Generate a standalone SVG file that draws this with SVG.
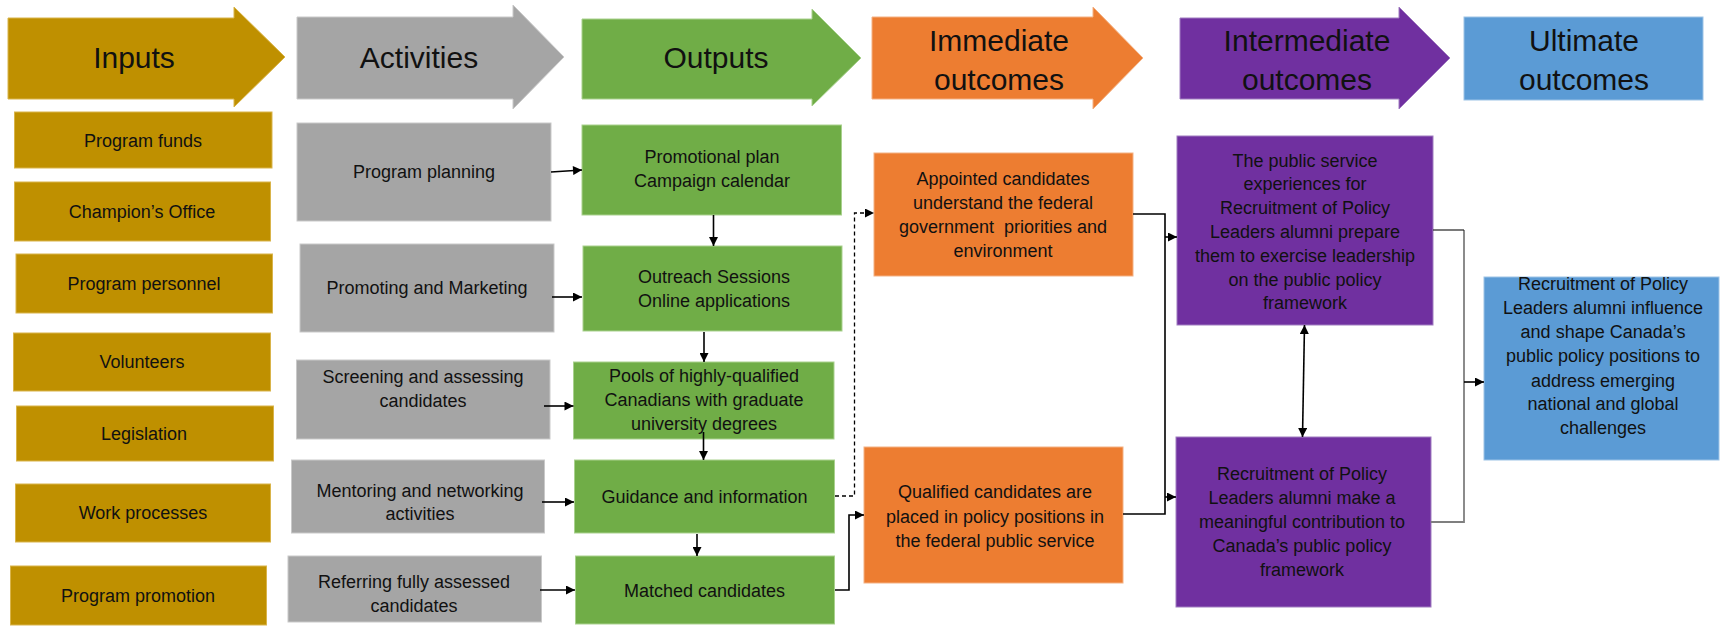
<svg xmlns="http://www.w3.org/2000/svg" width="1721" height="628" viewBox="0 0 1721 628">
  <defs>
    <style>
      .hd { font-family: "Liberation Sans", Arial, sans-serif; font-size: 30px; fill: #111; text-anchor: middle; }
      .tx { font-family: "Liberation Sans", Arial, sans-serif; font-size: 18px; fill: #111; text-anchor: middle; }
      .gold { fill: #BF9000; stroke: #D9B44A; stroke-width: 1; }
      .grey { fill: #A5A5A5; stroke: #C9C9C9; stroke-width: 1; }
      .green { fill: #70AD47; stroke: #A9D18E; stroke-width: 1; }
      .orange { fill: #ED7D31; stroke: #F4B183; stroke-width: 1; }
      .purple { fill: #7030A0; stroke: #A07CC0; stroke-width: 1; }
      .blue { fill: #5B9BD5; stroke: #9DC3E6; stroke-width: 1; }
      .ln { fill: none; stroke: #000; stroke-width: 1.6; }
      .dash { fill: none; stroke: #000; stroke-width: 1.3; stroke-dasharray: 4 3; }
      .gl { fill: none; stroke: #7F7F7F; stroke-width: 1.8; }
    </style>
    <marker id="ah" viewBox="0 0 10 10" refX="10" refY="5" markerWidth="10" markerHeight="9" markerUnits="userSpaceOnUse" orient="auto-start-reverse">
      <path d="M0,0 L10,5 L0,10 z" fill="#000"/>
    </marker>
  </defs>

  <!-- column header arrows -->
  <g id="hdr-inputs">
    <polygon class="gold" points="8,18 234,18 234,7 285,57 234,107 234,99 8,99"/>
    <text class="hd" x="134" y="68">Inputs</text>
  </g>
  <g id="hdr-activities">
    <polygon class="grey" points="297,17 513,17 513,5 564,57 513,109 513,99 297,99"/>
    <text class="hd" x="419" y="68">Activities</text>
  </g>
  <g id="hdr-outputs">
    <polygon class="green" points="582,19 812,19 812,9 861,58 812,106 812,99 582,99"/>
    <text class="hd" x="716" y="68">Outputs</text>
  </g>
  <g id="hdr-immediate">
    <polygon class="orange" points="872,17 1093,17 1093,7 1143,58 1093,109 1093,99 872,99"/>
    <text class="hd" x="999" y="51">Immediate</text>
    <text class="hd" x="999" y="90">outcomes</text>
  </g>
  <g id="hdr-intermediate">
    <polygon class="purple" points="1180,18 1399,18 1399,7 1450,58 1399,109 1399,99 1180,99"/>
    <text class="hd" x="1307" y="51">Intermediate</text>
    <text class="hd" x="1307" y="90">outcomes</text>
  </g>
  <g id="hdr-ultimate">
    <rect class="blue" x="1464" y="17" width="239" height="83"/>
    <text class="hd" x="1584" y="51">Ultimate</text>
    <text class="hd" x="1584" y="90">outcomes</text>
  </g>

  <!-- inputs -->
  <g id="in-funds"><rect class="gold" x="14.5" y="112" width="257.5" height="56"/><text class="tx" x="143" y="147">Program funds</text></g>
  <g id="in-champion"><rect class="gold" x="14.5" y="182" width="256" height="59"/><text class="tx" x="142" y="218">Champion’s Office</text></g>
  <g id="in-personnel"><rect class="gold" x="16" y="254" width="256.5" height="59"/><text class="tx" x="144" y="290">Program personnel</text></g>
  <g id="in-volunteers"><rect class="gold" x="13.5" y="333" width="257" height="58"/><text class="tx" x="142" y="368">Volunteers</text></g>
  <g id="in-legislation"><rect class="gold" x="16.5" y="406" width="257" height="55"/><text class="tx" x="144" y="440">Legislation</text></g>
  <g id="in-work"><rect class="gold" x="15.5" y="484" width="255" height="58"/><text class="tx" x="143" y="519">Work processes</text></g>
  <g id="in-promotion"><rect class="gold" x="10.5" y="566" width="256" height="59"/><text class="tx" x="138" y="602">Program promotion</text></g>

  <!-- activities -->
  <g id="act-planning"><rect class="grey" x="297" y="123" width="254" height="98"/><text class="tx" x="424" y="178">Program planning</text></g>
  <g id="act-marketing"><rect class="grey" x="300" y="244" width="254" height="88"/><text class="tx" x="427" y="294">Promoting and Marketing</text></g>
  <g id="act-screening"><rect class="grey" x="296.5" y="360" width="253.5" height="79"/>
    <text class="tx" x="423" y="383">Screening and assessing</text><text class="tx" x="423" y="407">candidates</text></g>
  <g id="act-mentoring"><rect class="grey" x="291.5" y="460" width="253" height="73"/>
    <text class="tx" x="420" y="497">Mentoring and networking</text><text class="tx" x="420" y="520">activities</text></g>
  <g id="act-referring"><rect class="grey" x="288" y="556" width="253.5" height="66"/>
    <text class="tx" x="414" y="588">Referring fully assessed</text><text class="tx" x="414" y="612">candidates</text></g>

  <!-- outputs -->
  <g id="out-plan"><rect class="green" x="582" y="125" width="259.5" height="90"/>
    <text class="tx" x="712" y="163">Promotional plan</text><text class="tx" x="712" y="187">Campaign calendar</text></g>
  <g id="out-outreach"><rect class="green" x="583" y="246" width="259" height="85"/>
    <text class="tx" x="714" y="283">Outreach Sessions</text><text class="tx" x="714" y="307">Online applications</text></g>
  <g id="out-pools"><rect class="green" x="573.5" y="362" width="260.5" height="77"/>
    <text class="tx" x="704" y="382">Pools of highly-qualified</text><text class="tx" x="704" y="406">Canadians with graduate</text><text class="tx" x="704" y="430">university degrees</text></g>
  <g id="out-guidance"><rect class="green" x="574.5" y="460" width="260" height="73"/>
    <text class="tx" x="704.5" y="503">Guidance and information</text></g>
  <g id="out-matched"><rect class="green" x="575.5" y="556" width="259" height="68"/>
    <text class="tx" x="704.5" y="597">Matched candidates</text></g>

  <!-- immediate outcomes -->
  <g id="imm-appointed"><rect class="orange" x="874" y="153" width="259" height="123"/>
    <text class="tx" x="1003" y="185">Appointed candidates</text><text class="tx" x="1003" y="209">understand the federal</text><text class="tx" x="1003" y="233" xml:space="preserve">government  priorities and</text><text class="tx" x="1003" y="257">environment</text></g>
  <g id="imm-qualified"><rect class="orange" x="864" y="447" width="259" height="136"/>
    <text class="tx" x="995" y="498">Qualified candidates are</text><text class="tx" x="995" y="523">placed in policy positions in</text><text class="tx" x="995" y="547">the federal public service</text></g>

  <!-- intermediate outcomes -->
  <g id="int-experience"><rect class="purple" x="1177" y="136" width="256" height="189"/>
    <text class="tx" x="1305" y="167">The public service</text><text class="tx" x="1305" y="190">experiences for</text><text class="tx" x="1305" y="214">Recruitment of Policy</text><text class="tx" x="1305" y="238">Leaders alumni prepare</text><text class="tx" x="1305" y="262">them to exercise leadership</text><text class="tx" x="1305" y="286">on the public policy</text><text class="tx" x="1305" y="309">framework</text></g>
  <g id="int-contribution"><rect class="purple" x="1176" y="437" width="255" height="170"/>
    <text class="tx" x="1302" y="480">Recruitment of Policy</text><text class="tx" x="1302" y="504">Leaders alumni make a</text><text class="tx" x="1302" y="528">meaningful contribution to</text><text class="tx" x="1302" y="552">Canada’s public policy</text><text class="tx" x="1302" y="576">framework</text></g>

  <!-- ultimate outcome -->
  <g id="ult-influence"><rect class="blue" x="1484" y="277" width="235" height="183"/>
    <text class="tx" x="1603" y="290">Recruitment of Policy</text><text class="tx" x="1603" y="314">Leaders alumni influence</text><text class="tx" x="1603" y="338">and shape Canada’s</text><text class="tx" x="1603" y="362">public policy positions to</text><text class="tx" x="1603" y="387">address emerging</text><text class="tx" x="1603" y="410">national and global</text><text class="tx" x="1603" y="434">challenges</text></g>

  <!-- connectors -->
  <g id="connectors">
    <line class="ln" x1="551" y1="172" x2="582" y2="170" marker-end="url(#ah)"/>
    <line class="ln" x1="552" y1="297" x2="582" y2="297" marker-end="url(#ah)"/>
    <line class="ln" x1="544" y1="406" x2="573.5" y2="406" marker-end="url(#ah)"/>
    <line class="ln" x1="542" y1="502" x2="574" y2="502" marker-end="url(#ah)"/>
    <line class="ln" x1="540" y1="590" x2="575" y2="590" marker-end="url(#ah)"/>

    <line class="ln" x1="713.5" y1="215" x2="713.5" y2="246" marker-end="url(#ah)"/>
    <line class="ln" x1="704" y1="332" x2="704" y2="362" marker-end="url(#ah)"/>
    <line class="ln" x1="703.5" y1="432" x2="703.5" y2="460" marker-end="url(#ah)"/>
    <line class="ln" x1="697" y1="534" x2="697" y2="556" marker-end="url(#ah)"/>

    <path class="dash" d="M835,496 H854.5 V213 H874" marker-end="url(#ah)"/>
    <path class="ln" d="M835,590 H849 V515 H864" marker-end="url(#ah)"/>

    <path class="ln" d="M1133,214 H1165 V514 H1123"/>
    <line class="ln" x1="1165" y1="237" x2="1177" y2="237" marker-end="url(#ah)"/>
    <line class="ln" x1="1165" y1="497" x2="1176" y2="497" marker-end="url(#ah)"/>

    <line class="ln" x1="1304.5" y1="325" x2="1302.5" y2="437" marker-start="url(#ah)" marker-end="url(#ah)"/>

    <path class="gl" d="M1464,230 V522 H1431"/>
    <line stroke="#222" stroke-width="1.2" x1="1433" y1="230" x2="1464" y2="230"/>
    <line class="ln" x1="1464" y1="382" x2="1484" y2="382" marker-end="url(#ah)"/>
  </g>
</svg>
